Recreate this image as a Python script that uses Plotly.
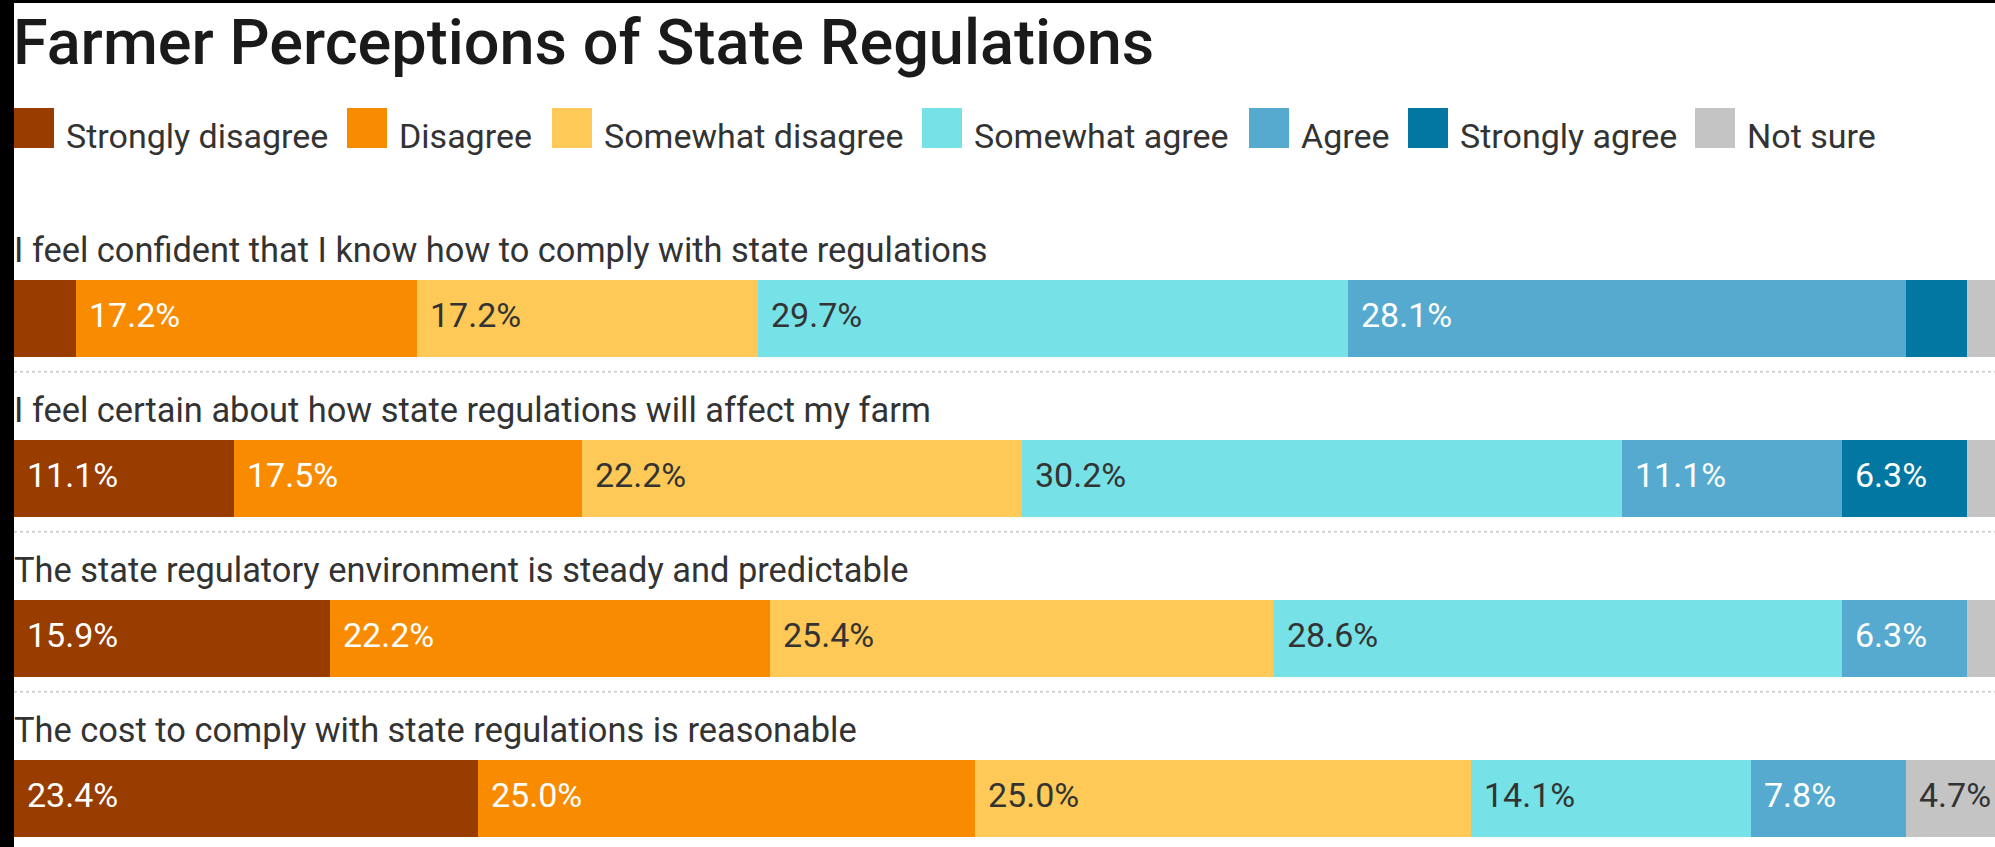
import plotly.graph_objects as go

# ---------------- data ----------------
questions = [
    "I feel confident that I know how to comply with state regulations",
    "I feel certain about how state regulations will affect my farm",
    "The state regulatory environment is steady and predictable",
    "The cost to comply with state regulations is reasonable",
]
categories = ["Strongly disagree", "Disagree", "Somewhat disagree",
              "Somewhat agree", "Agree", "Strongly agree", "Not sure"]

strongly_disagree = [3.1, 11.1, 15.9, 23.4]
disagree = [17.2, 17.5, 22.2, 25.0]
somewhat_disagree = [17.2, 22.2, 25.4, 25.0]
somewhat_agree = [29.7, 30.2, 28.6, 14.1]
agree = [28.1, 11.1, 6.3, 7.8]
strongly_agree = [3.1, 6.3, 0.0, 0.0]
not_sure = [1.6, 1.6, 1.6, 4.7]

title_text = "Farmer Perceptions of State Regulations"

# ---------------- style ----------------
colors = ["#983c00", "#f98b00", "#fec957", "#76e1e6", "#56aacf", "#0177a1", "#c4c4c4"]
label_colors = ["#ffffff", "#ffffff", "#333333", "#333333", "#ffffff", "#ffffff", "#333333"]
FONT = "Roboto"

W, H = 1995, 847
L = 14
PW = W - L
ROW_PX = 160.0
BAR_PX = 77.0
ROW0_CENTER = 318.0


def px(x):
    return (x - L) / PW


def py(y):
    return 1 - y / H


series = [strongly_disagree, disagree, somewhat_disagree, somewhat_agree,
          agree, strongly_agree, not_sure]

fig = go.Figure()
for name, vals, col in zip(categories, series, colors):
    fig.add_trace(go.Bar(
        y=questions, x=vals, name=name, orientation="h",
        marker=dict(color=col, line=dict(width=0)),
        showlegend=False, hoverinfo="skip",
    ))

annotations = []
shapes = []

# value labels inside segments
for i, q in enumerate(questions):
    base = 0.0
    for j, vals in enumerate(series):
        v = vals[i]
        if v >= 4:
            annotations.append(dict(
                x=base, y=q, xref="x", yref="y", text=f"{v:.1f}%",
                showarrow=False, xanchor="left", yanchor="middle",
                xshift=11, yshift=3,
                font=dict(family=FONT, size=34, color=label_colors[j]),
            ))
        base += v
    # question label above bar
    annotations.append(dict(
        x=0, y=q, xref="paper", yref="y", text=q, showarrow=False,
        xanchor="left", yanchor="middle", xshift=-2, yshift=68,
        font=dict(family=FONT, size=34.4, color="#333333"),
    ))

# dotted separators between rows
for i in range(len(questions) - 1):
    yv = i + 53.7 / ROW_PX
    shapes.append(dict(type="line", xref="paper", yref="y", x0=0, x1=1,
                       y0=yv, y1=yv, line=dict(color="#d2d2d2", width=2, dash="dot")))

# title
annotations.append(dict(
    x=0, y=py(42), xref="paper", yref="paper", text=title_text,
    showarrow=False, xanchor="left", yanchor="middle", xshift=-3,
    font=dict(family=FONT, size=63, color="#1a1a1a", weight=500),
))

# custom legend
legend_x = [14, 347, 552, 922, 1249, 1408, 1695]
for name, col, lx in zip(categories, colors, legend_x):
    shapes.append(dict(type="rect", xref="paper", yref="paper",
                       x0=px(lx), x1=px(lx + 40), y0=py(148), y1=py(108),
                       fillcolor=col, line=dict(width=0)))
    annotations.append(dict(
        x=px(lx + 50), y=py(136), xref="paper", yref="paper", text=name,
        showarrow=False, xanchor="left", yanchor="middle",
        font=dict(family=FONT, size=34, color="#333333"),
    ))

# screenshot frame: black strip on the left and top
shapes.append(dict(type="rect", xref="paper", yref="paper", x0=px(0), x1=px(L),
                   y0=0, y1=1, fillcolor="#000000", line=dict(width=0), layer="above"))
shapes.append(dict(type="rect", xref="paper", yref="paper", x0=px(0), x1=1,
                   y0=py(3), y1=1, fillcolor="#000000", line=dict(width=0), layer="above"))

top_val = -ROW0_CENTER / ROW_PX
bottom_val = top_val + H / ROW_PX

fig.update_layout(
    barmode="stack",
    bargap=1 - BAR_PX / ROW_PX,
    width=W, height=H,
    margin=dict(l=L, r=0, t=0, b=0),
    paper_bgcolor="white", plot_bgcolor="white",
    annotations=annotations, shapes=shapes,
    font=dict(family=FONT),
    template="none",
)
fig.update_xaxes(range=[0, 99.8], visible=False, showgrid=False, zeroline=False)
fig.update_yaxes(type="category", categoryorder="array", categoryarray=questions,
                 range=[bottom_val, top_val], visible=False, showgrid=False)

fig.write_html(
    "out.html",
    config={"displayModeBar": False},
    post_script="document.body.style.margin='0';document.body.style.overflow='hidden';",
)
